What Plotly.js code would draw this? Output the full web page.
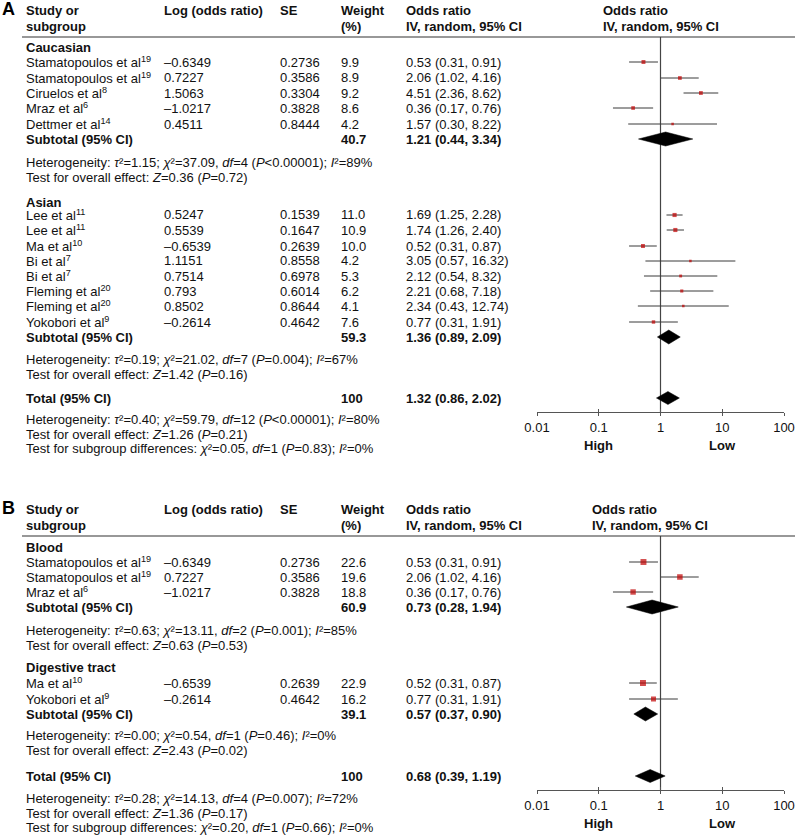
<!DOCTYPE html>
<html><head><meta charset="utf-8">
<script src="https://cdn.plot.ly/plotly-3.0.1.min.js"></script>
<style>html,body{margin:0;padding:0;background:#fff}</style>
</head><body><div id="chart" style="width:795px;height:837px"></div>
<script>
// ================= DATA: panel A (ethnicity) =================
const aGroups      = ["Caucasian", "Asian"];
const aStudyNames  = ["Stamatopoulos et al<sup>19</sup>", "Stamatopoulos et al<sup>19</sup>", "Ciruelos et al<sup>8</sup>", "Mraz et al<sup>6</sup>", "Dettmer et al<sup>14</sup>",
                      "Lee et al<sup>11</sup>", "Lee et al<sup>11</sup>", "Ma et al<sup>10</sup>", "Bi et al<sup>7</sup>", "Bi et al<sup>7</sup>", "Fleming et al<sup>20</sup>", "Fleming et al<sup>20</sup>", "Yokobori et al<sup>9</sup>"];
const aStudyGroup  = [0,0,0,0,0, 1,1,1,1,1,1,1,1];
const aLogOR       = ["–0.6349","0.7227","1.5063","–1.0217","0.4511", "0.5247","0.5539","–0.6539","1.1151","0.7514","0.793","0.8502","–0.2614"];
const aSE          = ["0.2736","0.3586","0.3304","0.3828","0.8444", "0.1539","0.1647","0.2639","0.8558","0.6978","0.6014","0.8644","0.4642"];
const aWeight      = [9.9, 8.9, 9.2, 8.6, 4.2, 11.0, 10.9, 10.0, 4.2, 5.3, 6.2, 4.1, 7.6];
const aOR          = [0.53, 2.06, 4.51, 0.36, 1.57, 1.69, 1.74, 0.52, 3.05, 2.12, 2.21, 2.34, 0.77];
const aLo          = [0.31, 1.02, 2.36, 0.17, 0.30, 1.25, 1.26, 0.31, 0.57, 0.54, 0.68, 0.43, 0.31];
const aHi          = [0.91, 4.16, 8.62, 0.76, 8.22, 2.28, 2.40, 0.87, 16.32, 8.32, 7.18, 12.74, 1.91];
const aSubWeight   = [40.7, 59.3];
const aSubOR       = [1.21, 1.36];
const aSubLo       = [0.44, 0.89];
const aSubHi       = [3.34, 2.09];
const aSubHet      = ["Heterogeneity: <i>τ</i>²=1.15; <i>χ</i>²=37.09, <i>df</i>=4 (<i>P</i>&lt;0.00001); <i>I</i>²=89%",
                      "Heterogeneity: <i>τ</i>²=0.19; <i>χ</i>²=21.02, <i>df</i>=7 (<i>P</i>=0.004); <i>I</i>²=67%"];
const aSubEffect   = ["Test for overall effect: <i>Z</i>=0.36 (<i>P</i>=0.72)", "Test for overall effect: <i>Z</i>=1.42 (<i>P</i>=0.16)"];
const aTotalWeight = 100;
const aTotalOR     = [1.32, 0.86, 2.02];
const aTotalNotes  = ["Heterogeneity: <i>τ</i>²=0.40; <i>χ</i>²=59.79, <i>df</i>=12 (<i>P</i>&lt;0.00001); <i>I</i>²=80%",
                      "Test for overall effect: <i>Z</i>=1.26 (<i>P</i>=0.21)",
                      "Test for subgroup differences: <i>χ</i>²=0.05, <i>df</i>=1 (<i>P</i>=0.83); <i>I</i>²=0%"];

// ================= DATA: panel B (tissue) =================
const bGroups      = ["Blood", "Digestive tract"];
const bStudyNames  = ["Stamatopoulos et al<sup>19</sup>", "Stamatopoulos et al<sup>19</sup>", "Mraz et al<sup>6</sup>", "Ma et al<sup>10</sup>", "Yokobori et al<sup>9</sup>"];
const bStudyGroup  = [0,0,0, 1,1];
const bLogOR       = ["–0.6349","0.7227","–1.0217","–0.6539","–0.2614"];
const bSE          = ["0.2736","0.3586","0.3828","0.2639","0.4642"];
const bWeight      = [22.6, 19.6, 18.8, 22.9, 16.2];
const bOR          = [0.53, 2.06, 0.36, 0.52, 0.77];
const bLo          = [0.31, 1.02, 0.17, 0.31, 0.31];
const bHi          = [0.91, 4.16, 0.76, 0.87, 1.91];
const bSubWeight   = [60.9, 39.1];
const bSubOR       = [0.73, 0.57];
const bSubLo       = [0.28, 0.37];
const bSubHi       = [1.94, 0.90];
const bSubHet      = ["Heterogeneity: <i>τ</i>²=0.63; <i>χ</i>²=13.11, <i>df</i>=2 (<i>P</i>=0.001); <i>I</i>²=85%",
                      "Heterogeneity: <i>τ</i>²=0.00; <i>χ</i>²=0.54, <i>df</i>=1 (<i>P</i>=0.46); <i>I</i>²=0%"];
const bSubEffect   = ["Test for overall effect: <i>Z</i>=0.63 (<i>P</i>=0.53)", "Test for overall effect: <i>Z</i>=2.43 (<i>P</i>=0.02)"];
const bTotalWeight = 100;
const bTotalOR     = [0.68, 0.39, 1.19];
const bTotalNotes  = ["Heterogeneity: <i>τ</i>²=0.28; <i>χ</i>²=14.13, <i>df</i>=4 (<i>P</i>=0.007); <i>I</i>²=72%",
                      "Test for overall effect: <i>Z</i>=1.36 (<i>P</i>=0.17)",
                      "Test for subgroup differences: <i>χ</i>²=0.20, <i>df</i>=1 (<i>P</i>=0.66); <i>I</i>²=0%"];

const axisTicks  = [0.01, 0.1, 1, 10, 100];
const axisLabels = ["0.01", "0.1", "1", "10", "100"];
const favourLabels = ["High", "Low"];
const favourAt     = [0.1, 10];

// ================= LAYOUT (pixel positions) =================
const W = 795, H = 837;
const FONT = "Liberation Sans, Arial, Helvetica, sans-serif";
const FS = 13;
const TXT = "#111";
const colX = {study: 24, logor: 162, se: 278, weight: 339, or: 404};
const panels = [
  { letter: "A", top: 0, plotHeadX: 601, xa: "x", xaIn: "x3",
    groupY: [47, 202], studyY: [62,78,93,108,124, 215,230,246,261,276,291,306,322],
    subY: [139, 337], hetY: [[162,177],[359,374]], totalY: 398, totalNotesY: [419,434,448],
    lineTop: 37, axisY: 412,
    groups: aGroups, names: aStudyNames, sg: aStudyGroup, logor: aLogOR, se: aSE, w: aWeight, or: aOR, lo: aLo, hi: aHi,
    subW: aSubWeight, subOR: aSubOR, subLo: aSubLo, subHi: aSubHi, subHet: aSubHet, subEff: aSubEffect,
    totW: aTotalWeight, tot: aTotalOR, totNotes: aTotalNotes },
  { letter: "B", top: 499, plotHeadX: 590, xa: "x2", xaIn: "x4",
    groupY: [547, 667], studyY: [562,577,592, 683,699],
    subY: [607, 714], hetY: [[630,645],[735,750]], totalY: 776, totalNotesY: [798,813,827],
    lineTop: 536, axisY: 790,
    groups: bGroups, names: bStudyNames, sg: bStudyGroup, logor: bLogOR, se: bSE, w: bWeight, or: bOR, lo: bLo, hi: bHi,
    subW: bSubWeight, subOR: bSubOR, subLo: bSubLo, subHi: bSubHi, subHet: bSubHet, subEff: bSubEffect,
    totW: bTotalWeight, tot: bTotalOR, totNotes: bTotalNotes }
];

const px = x => x / W;
const py = y => 1 - y / H;
const annotations = [];
const shapes = [];
function ann(x, y, text, bold, extra) {
  annotations.push(Object.assign({
    xref: "paper", yref: "paper", x: px(x), y: py(y), xanchor: "left", yanchor: "middle",
    text: bold ? "<b>" + text + "</b>" : text, showarrow: false,
    font: {family: FONT, size: FS, color: TXT}
  }, extra || {}));
}
const fmtOR = (o, l, h) => o.toFixed(2) + " (" + l.toFixed(2) + ", " + h.toFixed(2) + ")";

const traces = [];
panels.forEach(p => {
  const t = p.top;
  // panel letter and header
  ann(0, t + 9, p.letter, true, {font: {family: FONT, size: 18, color: "#000"}});
  ann(colX.study, t + 10, "Study or", true);
  ann(colX.study, t + 26, "subgroup", true);
  ann(colX.logor, t + 10, "Log (odds ratio)", true);
  ann(colX.se, t + 10, "SE", true);
  ann(colX.weight, t + 10, "Weight", true);
  ann(colX.weight, t + 26, "(%)", true);
  ann(colX.or, t + 10, "Odds ratio", true);
  ann(colX.or, t + 26, "IV, random, 95% CI", true);
  ann(p.plotHeadX, t + 10, "Odds ratio", true);
  ann(p.plotHeadX, t + 26, "IV, random, 95% CI", true);
  shapes.push({type: "line", xref: "paper", yref: "paper", x0: px(22), x1: px(795), y0: py(p.lineTop), y1: py(p.lineTop),
               line: {color: "#333", width: 1.2}});

  // studies
  p.names.forEach((n, i) => {
    const y = p.studyY[i];
    ann(colX.study, y, n, false);
    ann(colX.logor, y, p.logor[i], false);
    ann(colX.se, y, p.se[i], false);
    ann(colX.weight, y, p.w[i].toFixed(1), false);
    ann(colX.or, y, fmtOR(p.or[i], p.lo[i], p.hi[i]), false);
  });
  // groups
  p.groups.forEach((g, gi) => {
    ann(colX.study, p.groupY[gi], g, true);
    ann(colX.study, p.subY[gi], "Subtotal (95% CI)", true);
    ann(colX.weight, p.subY[gi], p.subW[gi].toFixed(1), true);
    ann(colX.or, p.subY[gi], fmtOR(p.subOR[gi], p.subLo[gi], p.subHi[gi]), true);
    ann(colX.study, p.hetY[gi][0], p.subHet[gi], false);
    ann(colX.study, p.hetY[gi][1], p.subEff[gi], false);
  });
  // total
  ann(colX.study, p.totalY, "Total (95% CI)", true);
  ann(colX.weight, p.totalY, String(p.totW), true);
  ann(colX.or, p.totalY, fmtOR(p.tot[0], p.tot[1], p.tot[2]), true);
  p.totNotes.forEach((s, k) => ann(colX.study, p.totalNotesY[k], s, false));

  // favour labels
  favourLabels.forEach((lab, k) => {
    annotations.push({xref: p.xa, yref: "y", x: Math.log10(favourAt[k]), y: p.axisY + 33, xanchor: "center", yanchor: "middle",
      text: "<b>" + lab + "</b>", showarrow: false, font: {family: FONT, size: FS, color: TXT}});
  });

  // line of no effect
  traces.push({type: "scatter", mode: "lines", xaxis: p.xa, yaxis: "y", x: [1, 1], y: [p.lineTop, p.axisY],
               line: {color: "#444", width: 1.2}, hoverinfo: "skip"});
  // CI lines
  const cx = [], cy = [];
  p.or.forEach((o, i) => { cx.push(p.lo[i], p.hi[i], null); cy.push(p.studyY[i], p.studyY[i], null); });
  traces.push({type: "scatter", mode: "lines", xaxis: p.xa, yaxis: "y", x: cx, y: cy,
               line: {color: "#3a3a3a", width: 1}, hoverinfo: "skip"});
  // point estimates
  traces.push({type: "scatter", mode: "markers", xaxis: p.xa, yaxis: "y", x: p.or, y: p.studyY,
               marker: {symbol: "square", color: "#c00000", size: p.w.map(w => 1.25 * Math.sqrt(w)), line: {width: 0}},
               hoverinfo: "x"});
  // diamonds
  const dia = (o, l, h, y, hh) => traces.push({type: "scatter", mode: "lines", xaxis: p.xa, yaxis: "y",
      x: [l, o, h, o, l], y: [y, y - hh, y, y + hh, y], fill: "toself", fillcolor: "#000",
      line: {color: "#000", width: 0.5}, hoverinfo: "skip"});
  p.subOR.forEach((o, gi) => dia(o, p.subLo[gi], p.subHi[gi], p.subY[gi], 7));
  dia(p.tot[0], p.tot[1], p.tot[2], p.totalY, 6.5);
  // invisible trace for inner-tick overlay axis
  traces.push({type: "scatter", mode: "markers", xaxis: p.xaIn, yaxis: "y", x: [1], y: [p.axisY], marker: {opacity: 0}, hoverinfo: "skip"});
});

const xDomain = [537 / W, 784 / W];
function xAxis(axisY, extra) {
  return Object.assign({
    type: "log", range: [-2, 2], domain: xDomain, anchor: "free", position: py(axisY),
    showgrid: false, zeroline: false, showline: true, linecolor: "#555", linewidth: 1.2,
    ticks: "outside", ticklen: 3, tickwidth: 1.2, tickcolor: "#555",
    tickmode: "array", tickvals: axisTicks, ticktext: axisLabels,
    tickfont: {family: FONT, size: FS, color: TXT}, fixedrange: true
  }, extra || {});
}
const layout = {
  width: W, height: H, margin: {l: 0, r: 0, t: 0, b: 0}, paper_bgcolor: "#fff", plot_bgcolor: "rgba(0,0,0,0)",
  showlegend: false, hovermode: "closest",
  xaxis: xAxis(panels[0].axisY),
  xaxis2: xAxis(panels[1].axisY),
  xaxis3: xAxis(panels[0].axisY, {overlaying: "x", ticks: "inside", showticklabels: false, showline: false}),
  xaxis4: xAxis(panels[1].axisY, {overlaying: "x2", ticks: "inside", showticklabels: false, showline: false}),
  yaxis: {range: [H, 0], domain: [0, 1], visible: false, fixedrange: true},
  annotations: annotations, shapes: shapes
};
Plotly.newPlot("chart", traces, layout, {displayModeBar: false});
</script></body></html>
